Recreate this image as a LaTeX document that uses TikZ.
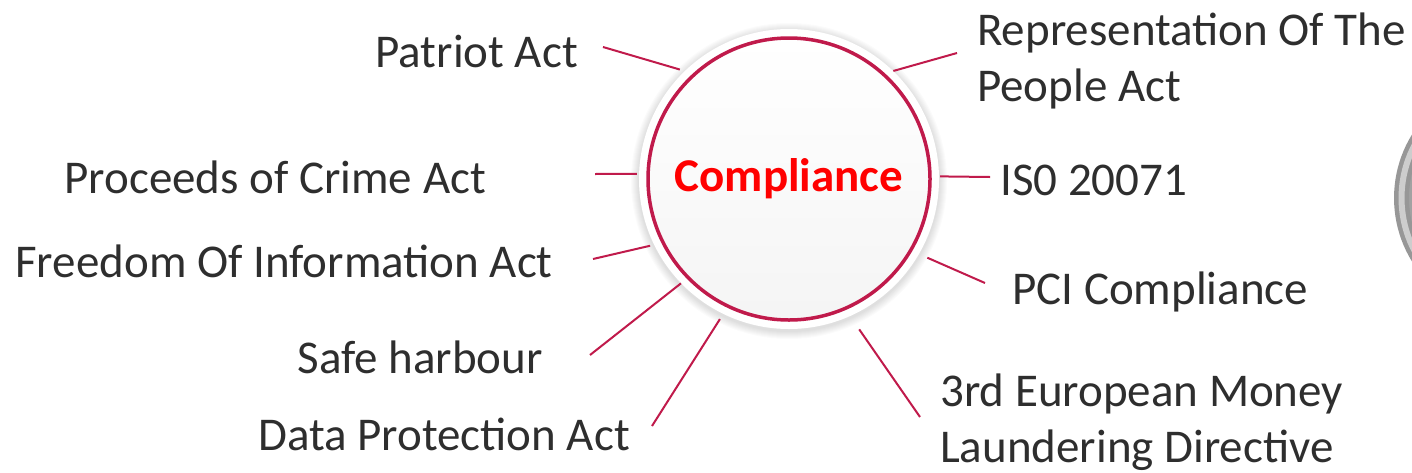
\documentclass[tikz,border=0pt]{standalone}
\usepackage{fontspec}
\setmainfont{Carlito}
\definecolor{ringred}{HTML}{C01A4B}
\definecolor{txtgray}{HTML}{2E2E2E}
\definecolor{badgegray}{HTML}{A2A2A2}
\definecolor{badgerim}{HTML}{979797}
\definecolor{badgelight}{HTML}{CDCDCD}
\begin{document}
\begin{tikzpicture}[x=1pt,y=-1pt,
    link/.style={ringred, line width=2pt},
    lbl/.style={txtgray, inner sep=0pt, font=\fontsize{47}{56}\selectfont, align=left}]
  \useasboundingbox (0,0) rectangle (1412,472);
  \clip (0,0) rectangle (1412,472);
  % grey badge cut by the right edge
  \node[circle, inner sep=0pt, minimum size=227pt, fill=badgegray, draw=badgerim,
    line width=4.5pt, double=badgelight, double distance=6pt] (badge) at (1515,198) {};
  % soft shadow, white halo and the hub
  \foreach \r in {1,...,8}
    \fill[black, opacity=0.015] (789,181) circle (150+\r);
  \node[circle, fill=white, minimum size=300pt, inner sep=0pt] (halo) at (789,179) {};
  \node[circle, minimum size=282pt, inner sep=0pt, draw=ringred, line width=3.5pt,
    top color=white, bottom color=black!4, text=red,
    font=\bfseries\fontsize{47}{56}\selectfont] (hub) at (789,179) {Compliance};
  % labels (two-line ones sit on their last baseline)
  \node[lbl, anchor=base east] (patriot) at (578,67) {Patriot Act};
  \node[lbl, anchor=base west] (people) at (977,101) {Representation Of The\\People Act};
  \node[lbl, anchor=base east] (crime) at (486,193) {Proceeds of Crime Act};
  \node[lbl, anchor=base west] (iso) at (1000,195) {IS0 20071};
  \node[lbl, anchor=base east] (foi) at (553,277) {Freedom Of Information Act};
  \node[lbl, anchor=base west] (pci) at (1012,304) {PCI Compliance};
  \node[lbl, anchor=base east] (harbour) at (543,373) {Safe harbour};
  \node[lbl, anchor=base east] (dpa) at (630,450) {Data Protection Act};
  \node[lbl, anchor=base west] (aml) at (940,462) {3rd European Money\\Laundering Directive};
  % free ends of the spokes
  \coordinate (pa) at (603,47);
  \coordinate (re) at (957,53);
  \coordinate (pr) at (595,174);
  \coordinate (is) at (990,177);
  \coordinate (fr) at (593,259);
  \coordinate (pc) at (985,283);
  \coordinate (sh) at (590,355);
  \coordinate (dp) at (652,426);
  \coordinate (eu) at (920,417);
  \foreach \a/\t/\g in {134/pa/5, 46/re/0, 178.5/pr/2, 1/is/1, 206/fr/4,
      330/pc/9, 224/sh/0, 244/dp/6, 294/eu/16}
    \draw[link, shorten <=\g pt] (halo.\a) -- (\t);
\end{tikzpicture}
\end{document}
